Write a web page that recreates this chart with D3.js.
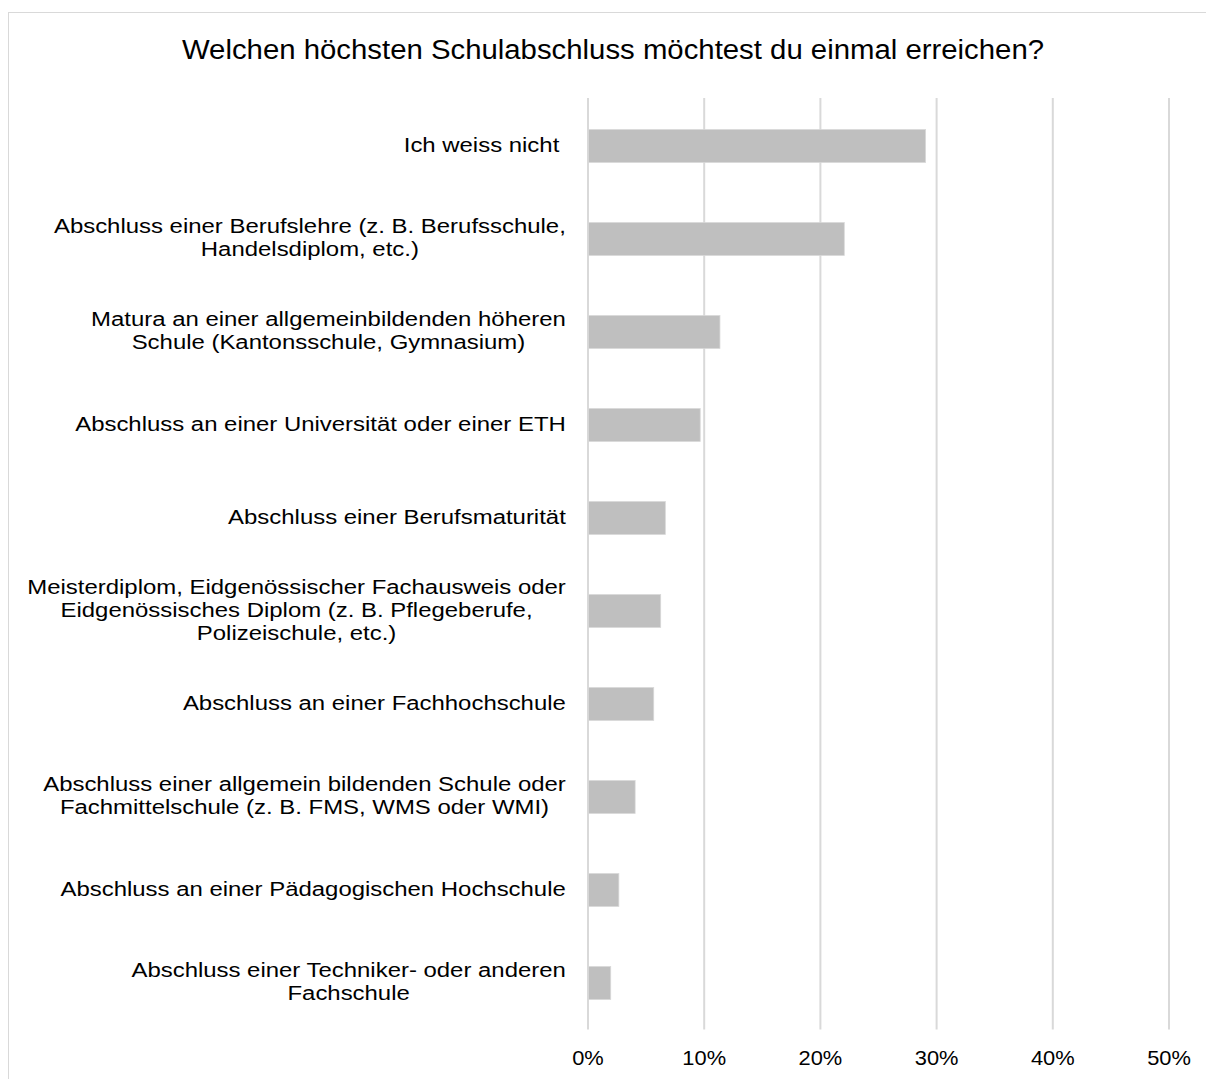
<!DOCTYPE html>
<html>
<head>
<meta charset="utf-8">
<script src="https://cdn.jsdelivr.net/npm/d3@7"></script>
<style>
  body { margin: 0; background: #fff; }
  text { font-family: "Liberation Sans", Arial, sans-serif; fill: #000; }
</style>
</head>
<body>
<div id="chart"></div>
<script>
// Survey answers, top to bottom (each label split into its printed lines)
var categories = [
  ["Ich weiss nicht "],
  ["Abschluss einer Berufslehre (z. B. Berufsschule,", "Handelsdiplom, etc.)"],
  ["Matura an einer allgemeinbildenden höheren", "Schule (Kantonsschule, Gymnasium)"],
  ["Abschluss an einer Universität oder einer ETH"],
  ["Abschluss einer Berufsmaturität"],
  ["Meisterdiplom, Eidgenössischer Fachausweis oder", "Eidgenössisches Diplom (z. B. Pflegeberufe,", "Polizeischule, etc.)"],
  ["Abschluss an einer Fachhochschule"],
  ["Abschluss einer allgemein bildenden Schule oder", "Fachmittelschule (z. B. FMS, WMS oder WMI)"],
  ["Abschluss an einer Pädagogischen Hochschule"],
  ["Abschluss einer Techniker- oder anderen", "Fachschule"]
];
var values = [0.291, 0.221, 0.114, 0.097, 0.067, 0.063, 0.057, 0.041, 0.027, 0.020];
var xTicks = [0, 0.1, 0.2, 0.3, 0.4, 0.5];
var title = "Welchen höchsten Schulabschluss möchtest du einmal erreichen?";

var svgWidth = 1206;
var svgHeight = 1079;

var svg = d3.select("#chart")
    .append("svg")
    .attr("width", svgWidth)
    .attr("height", svgHeight);

// chart frame (runs off the right and bottom edge)
svg.append("rect")
    .attr("x", 8.5)
    .attr("y", 12.5)
    .attr("width", 1210)
    .attr("height", 1100)
    .attr("fill", "#fff")
    .attr("stroke", "#d9d9d9")
    .attr("stroke-width", 1);

var xScale = d3.scaleLinear()
    .domain([0, 0.5])
    .range([587.5, 1168.5]);

var yScale = d3.scaleBand()
    .domain(d3.range(categories.length))
    .range([99.5, 1029.5])
    .paddingInner(0.645)
    .paddingOuter(0.3225);

// gridlines + tick labels from the axis
var xAxis = d3.axisBottom(xScale)
    .tickValues(xTicks)
    .tickFormat(d3.format(".0%"))
    .tickSize(-(1029.5 - 98))
    .tickPadding(21);

var axisG = svg.append("g")
    .attr("transform", "translate(0,1029.5)")
    .call(xAxis);
axisG.select(".domain").remove();
axisG.selectAll("line")
    .attr("stroke", "#d9d9d9")
    .attr("stroke-width", 2);
axisG.selectAll("text")
    .attr("font-size", "21px")
    .attr("fill", "#000")
    .attr("transform", "scale(1.04,1)")
    .attr("x", 0)
    .style("font-family", "'Liberation Sans', Arial, sans-serif");

// bars
svg.selectAll(".bar")
    .data(values)
    .enter()
    .append("rect")
    .attr("class", "bar")
    .attr("x", xScale(0) + 1)
    .attr("y", (d, i) => yScale(i))
    .attr("width", d => xScale(d) - xScale(0) - 1)
    .attr("height", yScale.bandwidth())
    .attr("fill", "#bfbfbf")
    .attr("stroke", "#d9d9d9")
    .attr("stroke-width", 0.75);

// category labels, block centred, right edge at x=566, a bit wider than the font
var lineHeight = 23;
var labelStretch = 1.14;
var labels = svg.selectAll(".cat")
    .data(categories)
    .enter()
    .append("text")
    .attr("class", "cat")
    .attr("text-anchor", "middle")
    .attr("font-size", "21px")
    .style("white-space", "pre");

labels.each(function (lines, i) {
    var cy = yScale(i) + yScale.bandwidth() / 2;
    var first = cy - (lines.length - 1) * lineHeight / 2;
    var t = d3.select(this);
    lines.forEach(function (ln, k) {
        t.append("tspan")
            .attr("x", 0)
            .attr("y", first + k * lineHeight)
            .attr("dy", "0.28em")
            .text(ln);
    });
    var w = this.getBBox().width * labelStretch;
    t.attr("transform", `translate(${566 - w / 2},0) scale(${labelStretch},1)`);
});

// title
svg.append("text")
    .attr("transform", "translate(613,50) scale(1.087,1)")
    .attr("dy", "0.35em")
    .attr("text-anchor", "middle")
    .attr("font-size", "27px")
    .text(title);
</script>
</body>
</html>
